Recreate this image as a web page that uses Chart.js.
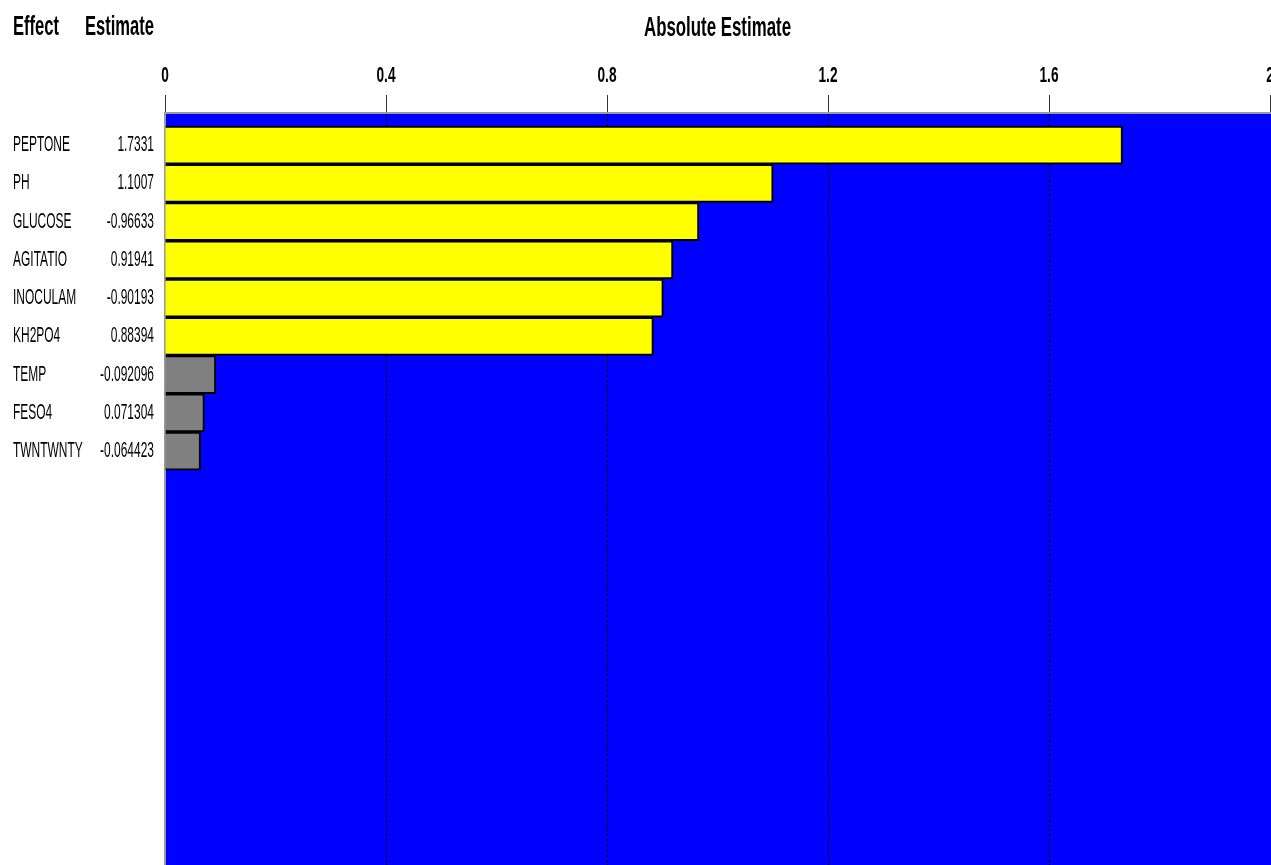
<!DOCTYPE html>
<html>
<head>
<meta charset="utf-8">
<script src="https://cdn.jsdelivr.net/npm/chart.js@4.4.1/dist/chart.umd.min.js"></script>
<style>
  html, body { margin: 0; padding: 0; background: #fff; }
  #wrap { width: 1271px; height: 865px; position: relative; }
</style>
</head>
<body>
<div id="wrap"><canvas id="c"></canvas></div>
<script>
// ---- data ----
const effects = ['PEPTONE', 'PH', 'GLUCOSE', 'AGITATIO', 'INOCULAM', 'KH2PO4', 'TEMP', 'FESO4', 'TWNTWNTY'];
const estimates = [1.7331, 1.1007, -0.96633, 0.91941, -0.90193, 0.88394, -0.092096, 0.071304, -0.064423];
const significant = [true, true, true, true, true, true, false, false, false];
const xTickValues = [0, 0.4, 0.8, 1.2, 1.6, 2];
const xTickLabels = ['0', '0.4', '0.8', '1.2', '1.6', '2'];
const headerLabels = ['Effect', 'Estimate'];
const axisTitle = 'Absolute Estimate';

const absEstimates = estimates.map(v => Math.abs(v));
const points = absEstimates.map((v, i) => ({ x: v, y: i }));

const FAM = '"Liberation Sans Narrow", "Arial Narrow", "Liberation Sans", Arial, sans-serif';

function squeezed(ctx, text, x, y, align, font, refText, refWidth) {
  ctx.save();
  ctx.font = font;
  const w = ctx.measureText(refText).width;
  const sx = refWidth / w;
  ctx.translate(x, y);
  ctx.scale(sx, 1);
  ctx.textAlign = align;
  ctx.textBaseline = 'middle';
  ctx.fillStyle = '#000';
  ctx.fillText(text, 0, 0);
  ctx.restore();
}

const bgPlugin = {
  id: 'bg',
  beforeDraw(chart) {
    const { ctx, chartArea: a } = chart;
    ctx.save();
    ctx.fillStyle = '#0000ff';
    ctx.fillRect(a.left, a.top, a.right - a.left + 2, a.bottom - a.top);
    ctx.restore();
  }
};

const textPlugin = {
  id: 'texts',
  afterDraw(chart) {
    const { ctx } = chart;
    const xs = chart.scales.x, ys = chart.scales.y;
    const a = chart.chartArea;
    squeezed(ctx, axisTitle, (a.left + a.right) / 2, 29, 'center', 'bold 27px ' + FAM, axisTitle, 147);
    squeezed(ctx, headerLabels[0], 13, 28, 'left', 'bold 27px ' + FAM, 'Estimate', 69);
    squeezed(ctx, headerLabels[1], 154, 28, 'right', 'bold 27px ' + FAM, 'Estimate', 69);
    xs.ticks.forEach((t) => {
      squeezed(ctx, t.label, xs.getPixelForValue(t.value), 76, 'center', 'bold 22px ' + FAM, '0.8', 19);
    });
    effects.forEach((name, i) => {
      const y = ys.getPixelForValue(i);
      squeezed(ctx, name, 13, y, 'left', '22px ' + FAM, 'PEPTONE', 57);
      squeezed(ctx, String(estimates[i]), 154, y, 'right', '22px ' + FAM, 'PEPTONE', 57);
    });
  }
};

new Chart(document.getElementById('c'), {
  type: 'bar',
  data: {
    datasets: [{
      data: points,
      backgroundColor: significant.map(s => s ? '#ffff00' : '#808080'),
      borderColor: '#000000',
      borderWidth: 2,
      categoryPercentage: 1,
      barPercentage: 1
    }]
  },
  options: {
    indexAxis: 'y',
    responsive: true,
    maintainAspectRatio: false,
    animation: false,
    events: [],
    layout: { padding: { left: 165, right: 1, top: 95, bottom: 0 } },
    plugins: { legend: { display: false }, tooltip: { enabled: false }, title: { display: false } },
    scales: {
      x: {
        type: 'linear',
        position: 'top',
        min: 0,
        max: 2,
        afterBuildTicks(scale) { scale.ticks = xTickValues.map(v => ({ value: v })); },
        ticks: { display: false, callback: (v, i) => xTickLabels[i] },
        grid: {
          color: ctx => (ctx.tick && (ctx.tick.value === 0 || ctx.tick.value === 2)) ? 'rgba(0,0,0,0)' : '#000000',
          lineWidth: 1,
          drawTicks: true,
          tickLength: 18,
          tickColor: '#333333',
          tickWidth: 1,
          tickBorderDash: []
        },
        border: { display: true, color: '#9a9a9a', width: 2, dash: [3, 2] }
      },
      y: {
        type: 'linear',
        reverse: true,
        offset: false,
        z: 1,
        min: -0.84,
        max: 18.82,
        afterBuildTicks(scale) { scale.ticks = effects.map((_, i) => ({ value: i })); },
        ticks: { display: false },
        grid: { display: false, drawTicks: false, offset: false },
        border: { display: true, color: '#9a9a9a', width: 2 }
      }
    }
  },
  plugins: [bgPlugin, textPlugin]
});
</script>
</body>
</html>
